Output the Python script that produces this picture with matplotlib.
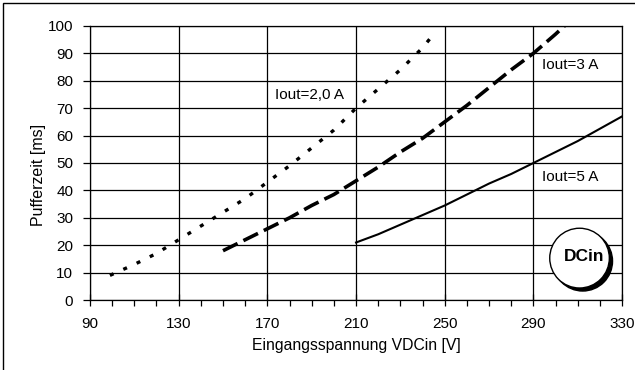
import matplotlib.pyplot as plt
from matplotlib.patches import Ellipse, Rectangle
from matplotlib.ticker import MultipleLocator

plt.rcParams['font.family'] = ['Liberation Sans', 'DejaVu Sans']

# Pufferzeit ueber Eingangsspannung, je Ausgangsstrom
v_2a = [99, 110, 120, 130, 140, 150, 160, 170, 180, 190, 200, 210, 220, 230, 240, 246]
t_2a = [9, 13, 17, 22, 27, 32, 37, 43, 49, 55.5, 62, 70, 77, 84, 92, 98]

v_3a = [150, 160, 170, 180, 190, 200, 210, 220, 230, 240, 250, 260, 270, 280, 290, 300, 304]
t_3a = [18, 22, 26, 30, 34.5, 38.5, 43.5, 48.5, 54, 59, 65, 71, 77.5, 84, 90, 97, 100]

v_5a = [210, 220, 230, 240, 250, 260, 270, 280, 290, 300, 310, 320, 330]
t_5a = [21, 24, 27.5, 31, 34.5, 38.5, 42.5, 46, 50, 54, 58, 62.5, 67]

x_ticks = [90, 130, 170, 210, 250, 290, 330]
y_ticks = list(range(0, 101, 10))

fig = plt.figure(figsize=(6.35, 3.7), dpi=100)
ax = fig.add_axes([0.1417, 0.189, 0.838, 0.741])

ax.plot(v_2a, t_2a, color='black', lw=2.4, linestyle=(0, (1.2, 3.2)),
        dash_capstyle='butt')
ax.plot(v_3a, t_3a, color='black', lw=2.6, linestyle=(0, (4.5, 1.8)),
        dash_capstyle='butt')
ax.plot(v_5a, t_5a, color='black', lw=1.5)

ax.set_xlim(90, 330)
ax.set_ylim(0, 100)
ax.set_xticks(x_ticks)
ax.set_yticks(y_ticks)
ax.xaxis.set_minor_locator(MultipleLocator(10))
ax.grid(True, which='major', color='black', lw=0.9)
for s in ax.spines.values():
    s.set_linewidth(0.9)

ax.tick_params(axis='x', which='major', direction='inout', length=8, width=0.9,
               pad=8, labelsize=11)
ax.tick_params(axis='x', which='minor', direction='out', length=4, width=0.9)
ax.tick_params(axis='y', which='major', direction='out', length=5, width=0.9,
               pad=7, labelsize=11)

ax.set_xlabel('Eingangsspannung VDCin [V]', fontsize=11.3, labelpad=5)
ax.set_ylabel('Pufferzeit [ms]', fontsize=11.5)
ax.yaxis.set_label_coords(-0.083, 0.456)

ax.text(173.5, 74.8, 'Iout=2,0 A', fontsize=11, va='center', ha='left')
ax.text(294, 85.8, 'Iout=3 A', fontsize=11, va='center', ha='left')
ax.text(294, 45, 'Iout=5 A', fontsize=11, va='center', ha='left')

# DCin-Plakette mit Schatten
ax.add_patch(Ellipse((0.926, 0.142), 0.112, 0.218, transform=ax.transAxes,
                     facecolor='black', edgecolor='black', zorder=5))
ax.add_patch(Ellipse((0.920, 0.153), 0.112, 0.218, transform=ax.transAxes,
                     facecolor='white', edgecolor='black', lw=1.0, zorder=6))
ax.text(0.929, 0.16, 'DCin', transform=ax.transAxes, fontsize=12.5,
        fontweight='bold', ha='center', va='center', zorder=7)

# Rahmen oben und links
fig.patches.append(Rectangle((3 / 635, -0.1), 1.2, 1 - 3 / 370 + 0.1,
                             transform=fig.transFigure, fill=False,
                             edgecolor='black', lw=1.0))

fig.savefig('out.png', dpi=100)
